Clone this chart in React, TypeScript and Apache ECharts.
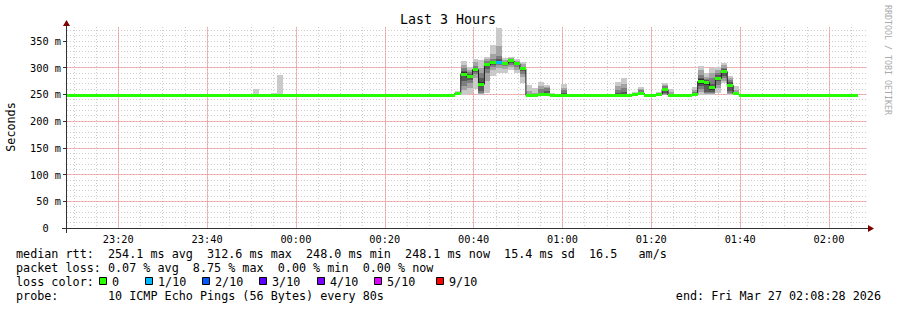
import React, { useEffect, useRef } from "react";
import * as echarts from "echarts";

// ---------- data ----------
// time is expressed in minutes after 2026-03-26 23:00:00
const RANGE_START = 8 + 28 / 60; // 23:08:28
const RANGE_END = RANGE_START + 180; // 02:08:28
const FIRST_SLOT = 7 + 46 / 60; // 23:07:46
const STEP_MIN = 80 / 60; // 80 s per slot

// median rtt per 80 s slot (ms)
const medianRtt = [
  248.1, 248.0, 248.1, 248.1, 248.2, 248.1, 248.0, 248.1, 248.1, 248.1,
  248.2, 248.1, 248.1, 248.0, 248.1, 248.1, 248.1, 248.2, 248.1, 248.0,
  248.1, 248.1, 248.1, 248.1, 248.2, 248.1, 248.0, 248.1, 248.1, 248.2,
  248.1, 248.1, 248.2, 248.1, 248.1, 248.3, 248.4, 248.1, 248.0, 248.1,
  248.1, 248.1, 248.2, 248.1, 248.1, 248.0, 248.1, 248.1, 248.1, 248.2,
  248.1, 248.1, 248.0, 248.1, 248.1, 248.1, 248.2, 248.1, 248.1, 248.1,
  248.0, 248.1, 248.1, 248.2, 248.1, 248.1, 252.0, 287.6, 283.0, 296.0,
  269.0, 305.0, 309.5, 309.5, 307.0, 312.6, 307.5, 297.6, 248.2, 248.1,
  249.0, 249.5, 248.3, 248.2, 248.2, 248.1, 248.1, 248.0, 248.1, 248.1,
  248.1, 248.1, 248.2, 248.3, 248.6, 248.1, 250.2, 252.0, 248.1, 248.1,
  250.0, 258.3, 248.5, 248.1, 248.1, 248.1, 249.5, 274.0, 272.0, 262.0,
  280.0, 292.6, 267.0, 251.0, 248.3, 248.1, 248.0, 248.1, 248.1, 248.1,
  248.2, 248.1, 248.1, 248.0, 248.1, 248.1, 248.1, 248.1, 248.2, 248.1,
  248.1, 248.0, 248.1, 248.1,
];

// slots with lost pings (index into medianRtt) and number lost out of 10
const lossSlots = [73];
const lossCounts = [1];

// slots with visible smoke and their 10 sorted ping times (ms)
const smokeSlots = [
  29, 32, 35, 36, 43,
  66, 67, 68, 69, 70, 71, 72, 73, 74, 75, 76, 77,
  78, 79, 80, 81, 82, 83, 84,
  92, 93, 94, 96, 97, 100, 101, 102,
  106, 107, 108, 109, 110, 111, 112, 113, 114,
];
const smokePings = [
  [247.9, 248.0, 248.0, 248.1, 248.1, 248.1, 248.2, 248.2, 248.3, 251.2],
  [248.0, 248.0, 248.1, 248.1, 248.2, 248.2, 248.2, 248.3, 248.4, 260.5],
  [248.0, 248.1, 248.1, 248.2, 248.3, 248.3, 248.4, 248.5, 248.6, 253.0],
  [248.1, 248.2, 248.3, 248.3, 248.4, 248.4, 248.5, 248.6, 249.0, 286.4],
  [248.0, 248.1, 248.1, 248.2, 248.2, 248.2, 248.3, 248.3, 248.4, 251.0],
  [248.1, 248.3, 249.5, 250.8, 251.6, 252.4, 253.2, 254.0, 255.1, 256.5],
  [248.4, 258.0, 265.2, 274.1, 283.5, 291.7, 294.0, 300.2, 305.1, 312.3],
  [250.3, 262.1, 270.4, 276.2, 281.2, 284.8, 288.7, 292.3, 296.0, 300.4],
  [260.2, 280.4, 288.1, 291.5, 294.6, 297.4, 299.8, 303.2, 310.1, 316.3],
  [248.2, 250.1, 252.3, 256.0, 265.4, 272.6, 281.0, 290.3, 300.2, 314.1],
  [252.0, 275.3, 290.1, 298.2, 303.4, 306.6, 309.2, 312.0, 315.4, 320.1],
  [285.2, 295.3, 302.1, 305.8, 308.4, 310.6, 313.1, 316.4, 325.2, 342.5],
  [290.1, 300.2, 304.0, 307.1, 309.5, 312.2, 315.3, 321.0, 340.2, 373.8],
  [289.6, 297.8, 302.3, 305.1, 306.2, 307.8, 309.2, 311.3, 314.1, 318.2],
  [295.0, 300.3, 305.1, 308.0, 311.4, 313.8, 315.1, 316.0, 317.1, 319.4],
  [290.2, 296.1, 300.3, 304.2, 306.6, 308.4, 310.1, 311.2, 313.0, 316.3],
  [272.1, 282.3, 288.0, 293.1, 296.4, 298.8, 300.2, 302.1, 306.0, 310.2],
  [247.9, 248.0, 248.1, 248.1, 248.2, 248.2, 248.4, 251.0, 256.1, 268.2],
  [247.9, 248.0, 248.0, 248.1, 248.1, 248.1, 248.2, 248.4, 252.0, 262.1],
  [248.0, 248.2, 248.4, 248.6, 248.8, 249.2, 252.0, 260.3, 265.1, 274.0],
  [248.0, 248.1, 248.3, 248.6, 249.0, 250.0, 256.0, 261.2, 264.5, 268.0],
  [248.0, 248.1, 248.1, 248.2, 248.3, 248.3, 248.4, 248.6, 249.0, 252.0],
  [248.0, 248.0, 248.1, 248.1, 248.2, 248.2, 248.3, 248.4, 248.6, 251.0],
  [248.0, 248.1, 248.1, 248.2, 248.2, 248.3, 252.0, 258.2, 262.0, 269.5],
  [248.0, 248.0, 248.1, 248.1, 248.2, 248.2, 248.3, 248.4, 248.6, 251.5],
  [248.0, 248.1, 248.1, 248.2, 248.2, 248.4, 252.0, 258.2, 265.0, 274.0],
  [248.0, 248.1, 248.2, 248.3, 248.4, 248.8, 254.1, 262.0, 270.1, 280.2],
  [248.1, 248.3, 248.9, 249.5, 250.0, 250.4, 251.0, 251.8, 252.6, 254.0],
  [248.2, 249.0, 250.1, 251.0, 251.6, 252.4, 254.1, 257.8, 260.1, 263.2],
  [248.0, 248.2, 248.6, 249.2, 249.8, 250.2, 251.0, 252.3, 253.4, 255.1],
  [248.0, 248.5, 249.8, 252.0, 256.2, 260.4, 262.0, 265.1, 268.0, 271.2],
  [248.0, 248.1, 248.2, 248.3, 248.4, 248.6, 249.5, 251.0, 255.0, 260.0],
  [248.0, 248.1, 248.3, 248.6, 249.2, 249.8, 251.0, 254.0, 258.1, 264.5],
  [249.2, 255.1, 260.2, 265.0, 270.2, 277.8, 280.1, 285.3, 295.0, 303.1],
  [248.1, 250.2, 252.3, 255.2, 268.1, 275.9, 277.0, 278.2, 282.1, 290.4],
  [248.0, 250.1, 252.2, 255.3, 258.4, 265.6, 270.1, 280.2, 290.1, 299.2],
  [252.1, 262.3, 268.0, 274.1, 278.3, 281.7, 286.2, 290.0, 296.1, 302.0],
  [271.2, 275.3, 280.1, 285.2, 290.4, 294.8, 298.1, 300.2, 305.1, 308.2],
  [248.2, 250.1, 252.3, 256.1, 264.2, 269.8, 274.0, 277.1, 280.2, 284.5],
  [248.0, 248.4, 249.0, 249.6, 250.4, 251.6, 253.0, 255.1, 258.2, 265.0],
  [248.0, 248.1, 248.1, 248.2, 248.3, 248.3, 248.4, 248.6, 249.0, 251.0],
];

const Y_MAX = 376;
const yTickValues = [0, 50, 100, 150, 200, 250, 300, 350];

const lossLegendLabels = ["0", "1/10", "2/10", "3/10", "4/10", "5/10", "9/10"];
const lossLegendColors = ["#26ff00", "#00b8ff", "#0059ff", "#5e00ff", "#7e00ff", "#dd00ff", "#ff0000"];

const statsLine1 = "median rtt:  254.1 ms avg  312.6 ms max  248.0 ms min  248.1 ms now  15.4 ms sd  16.5   am/s";
const statsLine2 = "packet loss: 0.07 % avg  8.75 % max  0.00 % min  0.00 % now";
const probeLine = "probe:       10 ICMP Echo Pings (56 Bytes) every 80s";
const endLine = "end: Fri Mar 27 02:08:28 2026";

// ---------- styling ----------
const MONO = "'DejaVu Sans Mono', monospace";
const SHADES = ["#cacaca", "#a4a4a4", "#7e7e7e", "#585858", "#323232"];
const MAJOR_GRID = "#ee8888";
const MINOR_GRID = "#cdcdcd";
const AXIS_COLOR = "#333333";
const ARROW_COLOR = "#7f0000";
const legendSquareX = [99.5, 145.5, 202.5, 259.5, 317.5, 374.5, 436.5];

const pad2 = (n: number) => (n < 10 ? "0" + n : "" + n);
const slotTime = (i: number) => FIRST_SLOT + i * STEP_MIN;
const lossAt = (i: number) => {
  const k = lossSlots.indexOf(i);
  return k < 0 ? 0 : lossCounts[k];
};
const lossColor = (n: number) => {
  const idx = n >= 9 ? 6 : Math.min(n, 5);
  return lossLegendColors[idx];
};

export default function App() {
  const ref = useRef<HTMLDivElement>(null);

  useEffect(() => {
    if (!ref.current) return;
    const chart = echarts.init(ref.current, undefined, { renderer: "svg" });

    const smokeData = smokeSlots.map((i, k) => [slotTime(i), ...smokePings[k]]);
    const medianData = medianRtt.map((v, i) => [slotTime(i), v, lossAt(i)]);
    const stepData = medianRtt.map((v, i) => [slotTime(i), v]);
    stepData.push([slotTime(medianRtt.length), medianRtt[medianRtt.length - 1]]);

    const timeLabel = (value: number) => {
      const r = Math.round(value);
      if (Math.abs(value - r) > 1e-6 || r % 20 !== 0) return "";
      const total = (23 * 60 + r) % 1440;
      return pad2(Math.floor(total / 60)) + ":" + pad2(total % 60);
    };

    const graphic: any[] = [
      {
        type: "text", x: 448, y: 19,
        style: { text: "Last 3 Hours", font: `13.3px ${MONO}`, fill: "#000", textAlign: "center", textVerticalAlign: "middle" },
      },
      {
        type: "text", x: 11, y: 127, rotation: Math.PI / 2,
        style: { text: "Seconds", font: `11.75px ${MONO}`, fill: "#000", textAlign: "center", textVerticalAlign: "middle" },
      },
      {
        type: "text", x: 887.5, y: 60, rotation: -Math.PI / 2,
        style: { text: "RRDTOOL / TOBI OETIKER", font: `8.3px ${MONO}`, fill: "#aaaaaa", textAlign: "center", textVerticalAlign: "middle" },
      },
      { type: "line", shape: { x1: 62, y1: 228.5, x2: 869, y2: 228.5 }, style: { stroke: AXIS_COLOR, lineWidth: 1 }, z: 50 },
      { type: "line", shape: { x1: 66.5, y1: 233, x2: 66.5, y2: 23 }, style: { stroke: AXIS_COLOR, lineWidth: 1 }, z: 50 },
      { type: "polygon", shape: { points: [[868, 225], [874, 228.5], [868, 232]] }, style: { fill: ARROW_COLOR }, z: 51 },
      { type: "polygon", shape: { points: [[63, 26], [66.5, 20], [70, 26]] }, style: { fill: ARROW_COLOR }, z: 51 },
      { type: "text", x: 16, y: 253.5, style: { text: statsLine1, font: `11.75px ${MONO}`, fill: "#000", textVerticalAlign: "middle" } },
      { type: "text", x: 16, y: 267.8, style: { text: statsLine2, font: `11.75px ${MONO}`, fill: "#000", textVerticalAlign: "middle" } },
      { type: "text", x: 16, y: 281.8, style: { text: "loss color:", font: `11.75px ${MONO}`, fill: "#000", textVerticalAlign: "middle" } },
      { type: "text", x: 16, y: 296.2, style: { text: probeLine, font: `11.75px ${MONO}`, fill: "#000", textVerticalAlign: "middle" } },
      { type: "text", x: 881, y: 296.2, style: { text: endLine, font: `11.75px ${MONO}`, fill: "#000", textAlign: "right", textVerticalAlign: "middle" } },
    ];
    lossLegendLabels.forEach((lab, k) => {
      graphic.push({
        type: "rect", shape: { x: legendSquareX[k], y: 277.5, width: 7, height: 7 },
        style: { fill: lossLegendColors[k], stroke: "#000", lineWidth: 1 },
      });
      graphic.push({
        type: "text", x: legendSquareX[k] + 12.5, y: 281.8,
        style: { text: lab, font: `11.75px ${MONO}`, fill: "#000", textVerticalAlign: "middle" },
      });
    });

    const minorLine = {
      show: true,
      showMinLine: false,
      showMaxLine: false,
      lineStyle: { color: MINOR_GRID, width: 1, type: [1, 2] },
    };
    const majorLine = {
      show: true,
      showMinLine: false,
      showMaxLine: false,
      lineStyle: { color: MAJOR_GRID, width: 1, type: "solid", opacity: 0.6 },
    };

    chart.setOption({
      animation: false,
      backgroundColor: "#ffffff",
      grid: { left: 67, right: 30.4, top: 27, bottom: 82, containLabel: false },
      graphic,
      xAxis: [
        {
          // minor 5-minute grid
          type: "value",
          position: "bottom",
          min: RANGE_START,
          max: RANGE_END,
          splitNumber: 36,
          minInterval: 5,
          maxInterval: 5,
          z: 0,
          axisLine: { show: false },
          axisTick: { show: false },
          axisLabel: { show: false },
          splitLine: minorLine,
        },
        {
          // major 20-minute grid + labels
          type: "value",
          position: "bottom",
          min: RANGE_START,
          max: RANGE_END,
          splitNumber: 9,
          minInterval: 20,
          maxInterval: 20,
          z: 1,
          axisLine: { show: false },
          axisTick: { show: false },
          axisLabel: {
            formatter: timeLabel,
            fontFamily: MONO,
            fontSize: 10.3,
            color: "#000",
            margin: 6,
            showMinLabel: false,
            showMaxLabel: false,
          },
          splitLine: majorLine,
        },
      ],
      yAxis: [
        {
          // minor grid every 10 ms
          type: "value",
          position: "left",
          min: 0,
          max: Y_MAX,
          interval: 10,
          z: 0,
          axisLine: { show: false },
          axisTick: { show: false },
          axisLabel: { show: false },
          splitLine: minorLine,
        },
        {
          type: "value",
          position: "left",
          min: 0,
          max: Y_MAX,
          interval: 50,
          z: 1,
          axisLine: { show: false },
          axisTick: { show: true, length: 4, customValues: yTickValues, lineStyle: { color: AXIS_COLOR } },
          axisLabel: {
            formatter: (v: number) => (v === 0 ? "0\u00a0\u00a0" : `${v} m`),
            fontFamily: MONO,
            fontSize: 10.3,
            color: "#000",
            margin: 6,
            showMaxLabel: false,
          },
          splitLine: majorLine,
        },
      ],
      series: [
        {
          type: "custom",
          name: "smoke",
          xAxisIndex: 1,
          yAxisIndex: 1,
          clip: true,
          z: 2,
          encode: { x: 0, y: [1, 2, 3, 4, 5, 6, 7, 8, 9, 10] },
          data: smokeData,
          renderItem: (params: any, api: any) => {
            const t = api.value(0);
            const x0 = Math.round(api.coord([t, 0])[0]);
            const x1 = Math.round(api.coord([t + STEP_MIN, 0])[0]);
            const children: any[] = [];
            for (let b = 0; b < 5; b++) {
              const lo = api.value(1 + b);
              const hi = api.value(10 - b);
              const yHi = Math.round(api.coord([t, hi])[1]);
              const yLo = Math.round(api.coord([t, lo])[1]);
              if (yLo - yHi < 1) continue;
              children.push({
                type: "rect",
                shape: { x: x0, y: yHi, width: x1 - x0, height: yLo - yHi },
                style: { fill: SHADES[b] },
              });
            }
            return { type: "group", children };
          },
        },
        {
          type: "line",
          name: "median",
          xAxisIndex: 1,
          yAxisIndex: 1,
          step: "end",
          symbol: "none",
          clip: true,
          z: 3,
          lineStyle: { color: "#202020", width: 1 },
          data: stepData,
        },
        {
          type: "custom",
          name: "median loss color",
          xAxisIndex: 1,
          yAxisIndex: 1,
          clip: true,
          z: 4,
          encode: { x: 0, y: 1 },
          data: medianData,
          renderItem: (params: any, api: any) => {
            const t = api.value(0);
            const m = api.value(1);
            const loss = api.value(2);
            const x0 = Math.round(api.coord([t, 0])[0]);
            const x1 = Math.round(api.coord([t + STEP_MIN, 0])[0]);
            const y = api.coord([t, m])[1];
            return {
              type: "rect",
              shape: { x: x0, y: Math.round(y - 1.5), width: x1 - x0, height: 3 },
              style: { fill: lossColor(loss) },
            };
          },
        },
      ],
    });

    return () => chart.dispose();
  }, []);

  return (
    <div
      ref={ref}
      style={{ position: "absolute", left: 0, top: 0, width: 897, height: 310, background: "#fff" }}
    />
  );
}
